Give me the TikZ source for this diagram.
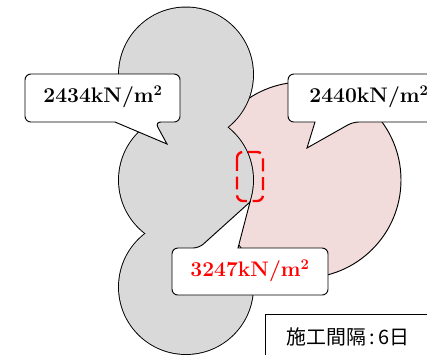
\documentclass[tikz,border=0pt]{standalone}
\usepackage{fontspec}
\usepackage{xcolor}
\newfontfamily\jpfont{Noto Sans CJK JP}
\definecolor{grayfill}{RGB}{217,217,217}
\definecolor{pinkfill}{RGB}{242,220,219}

\begin{document}
\begin{tikzpicture}[x=0.03cm,y=-0.03cm,
    callout/.style={draw=black,fill=white,line width=0.8pt,line join=miter},
    lbl/.style={font=\fontsize{18}{21}\selectfont\bfseries}]
\useasboundingbox (0,0) rectangle (427,354);
\clip (0,0) rectangle (427,354);
% second pour (pink)
\draw[fill=pinkfill,line width=0.8pt] (303,180) circle (98);
% first pour (gray), outline of the union only
\foreach \y in {74.5,180,287}
    {\draw[line width=1.6pt] (186,\y) circle (67);}
\foreach \y in {74.5,180,287}
    {\fill[grayfill] (186,\y) circle (67);}
% callout tips
\coordinate (t1) at (167,144);
\coordinate (t2) at (307,148);
\coordinate (t3) at (250,202);
% callouts
\draw[callout] (100,74) [rounded corners=5pt] -- (180,74) -- (180,122) -- (155,122)
    [sharp corners] -- (t1) -- (115,122) [rounded corners=5pt] -- (25,122) -- (25,74) -- cycle;
\node[lbl] (l1) at (103,97) {2434kN/m\textsuperscript{2}};
\draw[callout] (360,74) [rounded corners=5pt] -- (445,74) -- (445,122) -- (353,122)
    [sharp corners] -- (t2) -- (315,122) [rounded corners=5pt] -- (288,122) -- (288,74) -- cycle;
\node[lbl] (l2) at (369,97) {2440kN/m\textsuperscript{2}};
\draw[callout] (250,295) [rounded corners=5pt] -- (172,295) -- (172,248) -- (199,248)
    [sharp corners] -- (t3) -- (238,248) [rounded corners=5pt] -- (328,248) -- (328,295) -- cycle;
\node[lbl,text=red] (l3) at (250,271) {3247kN/m\textsuperscript{2}};
% joint area
\draw[red,line width=2pt,rounded corners=5pt,dash pattern=on 11pt off 5pt] (237,152) rectangle (263,201);
% interval box
\draw[line width=0.8pt] (265,314) rectangle (440,370);
\node[font=\jpfont\fontsize{17}{20}\selectfont] (iv) at (348,337) {施工間隔\hspace{0.15em}:\hspace{0.15em}6日};
\end{tikzpicture}
\end{document}
